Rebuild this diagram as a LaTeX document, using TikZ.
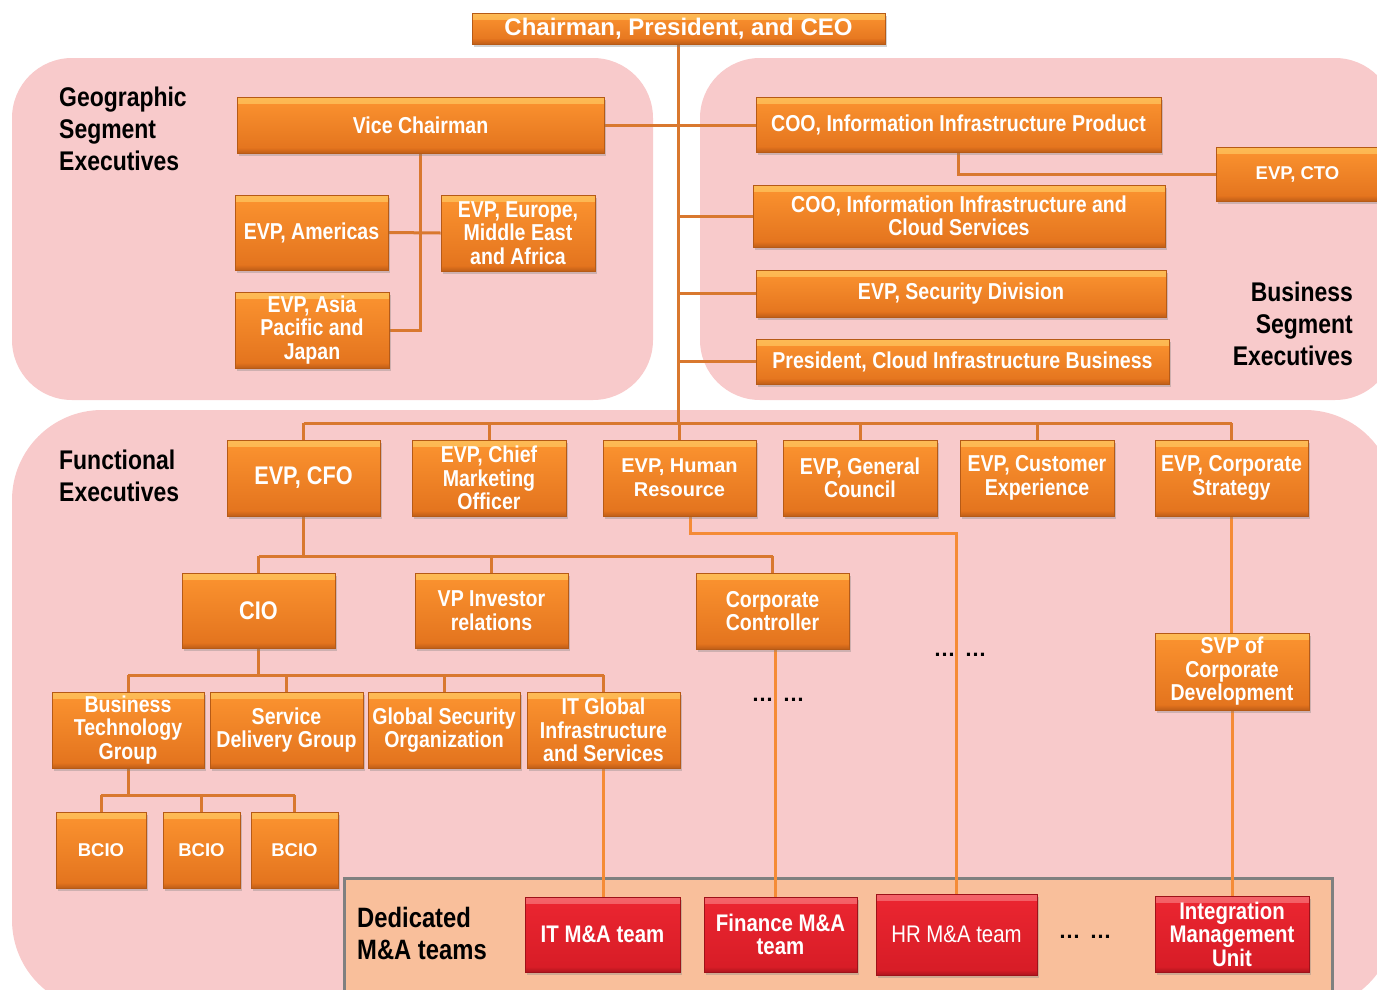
\documentclass[tikz,border=0pt]{standalone}
\usepackage{fontspec}
\setmainfont{Liberation Sans}
\newfontfamily\narrowfont{Liberation Sans}[FakeStretch=0.85]
\usetikzlibrary{shadows}

\definecolor{panelpink}{HTML}{F8CACB}
\definecolor{mapeach}{HTML}{F9BF9B}
\definecolor{maedge}{HTML}{808080}
\definecolor{boxtop}{HTML}{FC9430}
\definecolor{boxbot}{HTML}{E2721D}
\definecolor{boxedge}{HTML}{B65A16}
\definecolor{boxhi}{HTML}{FDBB55}
\definecolor{boxlo}{HTML}{BF5E18}
\definecolor{redtop}{HTML}{EC2631}
\definecolor{redbot}{HTML}{D61C26}
\definecolor{rededge}{HTML}{9E1219}
\definecolor{redhi}{HTML}{F4646A}
\definecolor{redlo}{HTML}{AE151D}
\definecolor{linkcol}{HTML}{D9782F}
\definecolor{malink}{HTML}{F58B36}

\pgfdeclarelayer{panels}
\pgfdeclarelayer{links}
\pgfsetlayers{panels,links,main}

\tikzset{
  boxshadow/.style={drop shadow={opacity=0.35, shadow xshift=2pt, shadow yshift=-3pt}},
  orgbox/.style={draw=boxedge, line width=0.8pt, top color=boxtop, bottom color=boxbot,
    text=white, align=center, inner sep=0pt, boxshadow,
    font=\narrowfont\bfseries\fontsize{23}{23.5}\selectfont,
    path picture={
      \shade[top color=boxhi, bottom color=boxtop]
        (path picture bounding box.north west) rectangle ([yshift=-6pt]path picture bounding box.north east);
      \shade[top color=boxbot, bottom color=boxlo]
        ([yshift=5pt]path picture bounding box.south west) rectangle (path picture bounding box.south east);
    }},
  widebox/.style={orgbox, font=\bfseries\fontsize{20}{24}\selectfont},
  bciobox/.style={orgbox, minimum height=76pt, font=\bfseries\fontsize{18.5}{22}\selectfont},
  redbox/.style={draw=rededge, line width=0.8pt, top color=redtop, bottom color=redbot,
    text=white, align=center, inner sep=0pt, boxshadow,
    font=\narrowfont\bfseries\fontsize{24}{23.5}\selectfont,
    path picture={
      \shade[top color=redhi, bottom color=redtop]
        (path picture bounding box.north west) rectangle ([yshift=-6pt]path picture bounding box.north east);
      \shade[top color=redbot, bottom color=redlo]
        ([yshift=5pt]path picture bounding box.south west) rectangle (path picture bounding box.south east);
    }},
  panel/.style={fill=panelpink},
  grouplabel/.style={text=black, inner sep=0pt, font=\narrowfont\bfseries\fontsize{27}{32}\selectfont},
  link/.style={draw=linkcol, line width=3pt},
  malinkstyle/.style={draw=malink, line width=3pt},
  dots/.style={text=black, inner sep=0pt, font=\bfseries\fontsize{22}{22}\selectfont}
}

\begin{document}
\begin{tikzpicture}[x=1pt, y=-1pt]
\useasboundingbox (0,0) rectangle (1377,989);

% background panels
\begin{pgfonlayer}{panels}
\fill[panel, rounded corners=60pt] (12,58) rectangle (653,400);
\fill[panel, rounded corners=60pt] (700,58) rectangle (1395,400);
\fill[panel, rounded corners=90pt] (12,410) rectangle (1395,1010);
\filldraw[fill=mapeach, draw=maedge, line width=3pt] (344,878) rectangle (1332,1010);
\end{pgfonlayer}

% group labels
\node[grouplabel, anchor=west, align=left] (geolbl) at (59,129) {Geographic\\Segment\\Executives};
\node[grouplabel, anchor=east, align=right] (bizlbl) at (1353,324) {Business\\Segment\\Executives};
\node[grouplabel, anchor=west, align=left] (funlbl) at (59,476) {Functional\\Executives};
\node[grouplabel, anchor=west, align=left, font=\narrowfont\bfseries\fontsize{28}{32}\selectfont] (malbl) at (357,933) {Dedicated\\M\&A teams};

% top of the organisation
\node[orgbox, minimum width=413pt, minimum height=31pt, font=\bfseries\fontsize{24}{24}\selectfont] (ceo) at (678.5,28.5) {Chairman, President, and CEO};

% geographic segment
\node[orgbox, minimum width=367pt, minimum height=56pt] (vice) at (420.5,125) {Vice Chairman};
\node[orgbox, minimum width=153pt, minimum height=75pt] (amer) at (311.5,232.5) {EVP, Americas};
\node[orgbox, minimum width=154pt, minimum height=76pt] (emea) at (518,233) {EVP, Europe,\\Middle East\\and Africa};
\node[orgbox, minimum width=154pt, minimum height=76pt] (apj) at (312,330) {EVP, Asia\\Pacific and\\Japan};

% business segment
\node[orgbox, minimum width=405pt, minimum height=55pt] (cooP) at (958.5,124.5) {COO, Information Infrastructure Product};
\node[orgbox, minimum width=169pt, minimum height=54pt, font=\bfseries\fontsize{18.5}{22}\selectfont] (cto) at (1300.5,174) {EVP, CTO\hspace*{6pt}};
\node[orgbox, minimum width=412pt, minimum height=62pt] (cooC) at (959,216) {COO, Information Infrastructure and\\Cloud Services};
\node[orgbox, minimum width=410pt, minimum height=47pt] (sec) at (961,293.5) {EVP, Security Division};
\node[orgbox, minimum width=413pt, minimum height=45pt] (pres) at (962.5,361.5) {President, Cloud Infrastructure Business};

% functional executives
\node[orgbox, minimum width=153pt, minimum height=76pt, font=\narrowfont\bfseries\fontsize{25.5}{25.5}\selectfont] (cfo) at (303.5,478) {EVP, CFO};
\node[orgbox, minimum width=154pt, minimum height=76pt] (cmo) at (489,478) {EVP, Chief\\Marketing\\Officer};
\node[widebox, minimum width=153pt, minimum height=76pt] (hr) at (679.5,478) {EVP, Human\\Resource};
\node[orgbox, minimum width=154pt, minimum height=76pt] (gc) at (860,478) {EVP, General\\Council};
\node[orgbox, minimum width=154pt, minimum height=76pt] (cust) at (1037,478) {EVP, Customer\\Experience};
\node[orgbox, minimum width=153pt, minimum height=76pt] (cs) at (1231.5,478) {EVP, Corporate\\Strategy};

\node[orgbox, minimum width=153pt, minimum height=75pt, font=\narrowfont\bfseries\fontsize{25.5}{25.5}\selectfont] (cio) at (258.5,610.5) {CIO};
\node[orgbox, minimum width=153pt, minimum height=75pt] (ir) at (491.5,610.5) {VP Investor\\relations};
\node[orgbox, minimum width=153pt, minimum height=76pt] (ctrl) at (772.5,611) {Corporate\\Controller};

\node[orgbox, minimum width=152pt, minimum height=76pt] (btg) at (128,730) {Business\\Technology\\Group};
\node[orgbox, minimum width=153pt, minimum height=76pt] (sdg) at (286.5,730) {Service\\Delivery Group};
\node[orgbox, minimum width=152pt, minimum height=76pt] (gso) at (444,730) {Global Security\\Organization};
\node[orgbox, minimum width=153pt, minimum height=76pt] (itg) at (603.5,730) {IT Global\\Infrastructure\\and Services};

\node[bciobox, minimum width=90pt] (bcioA) at (101,850) {BCIO};
\node[bciobox, minimum width=77pt] (bcioB) at (201.5,850) {BCIO};
\node[bciobox, minimum width=87pt] (bcioC) at (294.5,850) {BCIO};

\node[orgbox, minimum width=154pt, minimum height=77pt] (svp) at (1232,671.5) {SVP of\\Corporate\\Development};

% dedicated M&A teams
\node[redbox, minimum width=155pt, minimum height=75pt] (itma) at (602.5,934.5) {IT M\&A team};
\node[redbox, minimum width=153pt, minimum height=75pt] (finma) at (780.5,934.5) {Finance M\&A\\team};
\node[redbox, minimum width=161pt, minimum height=81pt, font=\narrowfont\fontsize{24}{23.5}\selectfont] (hrma) at (956.5,934.5) {HR M\&A team};
\node[redbox, minimum width=154pt, minimum height=76pt] (imu) at (1232,934) {Integration\\Management\\Unit};

% ellipses standing for further units
\node[dots] (dotsA) at (960,655) {…\hspace{9pt}…};
\node[dots] (dotsB) at (778,700) {…\hspace{9pt}…};
\node[dots] (dotsC) at (1085,937) {…\hspace{9pt}…};

% junction points of the bars
\coordinate (fbar) at (679,423);
\coordinate (cfobar) at (303.5,556);
\coordinate (ciobar) at (258.5,675);
\coordinate (btgbar) at (128,795);

\begin{pgfonlayer}{links}
% CEO line and business segment
\draw[link] (ceo.south) -- (ceo.south |- fbar);
\draw[link] (vice.east) -- (vice.east -| cooP.west);
\draw[link] (cooC.west) -- (cooC.west -| ceo.south);
\draw[link] (sec.west) -- (sec.west -| ceo.south);
\draw[link] (pres.west) -- (pres.west -| ceo.south);
\draw[link] (cooP.south) |- (cto.west);
% geographic segment
\draw[link] (vice.south) |- (apj.east);
\draw[link] (amer.east) -- (emea.west);
% functional executives
\draw[link] (cfo.north |- fbar) -- (cs.north |- fbar);
\foreach \n in {cfo, cmo, hr, gc, cust, cs}
  \draw[link] (\n.north) -- (\n.north |- fbar);
\draw[link] (cfo.south) -- (cfobar);
\draw[link] (cio.north |- cfobar) -- (ctrl.north |- cfobar);
\foreach \n in {cio, ir, ctrl}
  \draw[link] (\n.north) -- (\n.north |- cfobar);
\draw[link] (cio.south) -- (ciobar);
\draw[link] (btg.north |- ciobar) -- (itg.north |- ciobar);
\foreach \n in {btg, sdg, gso, itg}
  \draw[link] (\n.north) -- (\n.north |- ciobar);
\draw[link] (btg.south) -- (btgbar);
\draw[link] (bcioA.north |- btgbar) -- (bcioC.north |- btgbar);
\foreach \n in {bcioA, bcioB, bcioC}
  \draw[link] (\n.north) -- (\n.north |- btgbar);
% lines down to the M&A teams
\draw[malinkstyle] ([xshift=11pt]hr.south) -- ++(0,17) -| (hrma.north);
\draw[malinkstyle] ([xshift=3pt]ctrl.south) -- ([xshift=3pt]ctrl.south |- finma.north);
\draw[malinkstyle] (itg.south) -- (itg.south |- itma.north);
\draw[malinkstyle] (cs.south) -- (cs.south |- svp.north);
\draw[malinkstyle] (svp.south) -- (imu.north);
\end{pgfonlayer}
\end{tikzpicture}
\end{document}
